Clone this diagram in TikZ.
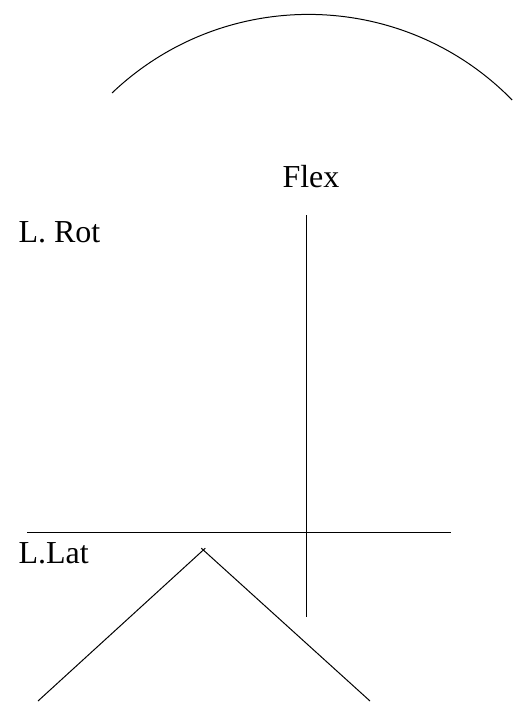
\documentclass[tikz,border=0pt]{standalone}
\usepackage{fontspec}
\setmainfont{Liberation Serif}
\usetikzlibrary{positioning}

\tikzset{axislabel/.style={anchor=base west, inner sep=0pt, font=\fontsize{32}{38}\selectfont}}

\begin{document}
\begin{tikzpicture}[x=1pt, y=-1pt, line width=1pt]
\useasboundingbox (0,0) rectangle (519,702);

\node[axislabel] (flex) at (282,187) {Flex};
\node[axislabel] (lrot) at (18,242) {L. Rot};
\node[axislabel] (llat) at (18,563) {L.Lat};

\coordinate (top) at (306,215);
\coordinate (bottom) at (306,617);
\coordinate (left) at (27,532.5);
\coordinate (right) at (451,532.5);
\coordinate (vleft) at (38,701);
\coordinate (vtipl) at (205.3,548.2);
\coordinate (vtipr) at (201.3,548.2);
\coordinate (vright) at (370,701);

% the arc on top
\draw (112,93) arc[start angle=-133.6, end angle=-44.4, radius=285];

\draw (top) -- (bottom);
\draw (left) -- (right);
\draw (vleft) -- (vtipl);
\draw (vtipr) -- (vright);
\end{tikzpicture}
\end{document}
